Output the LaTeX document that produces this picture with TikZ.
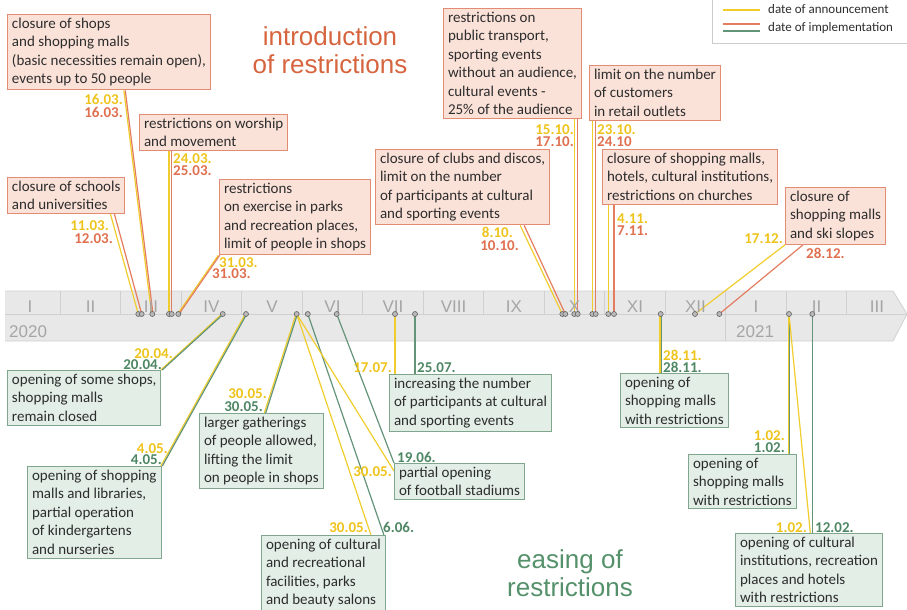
\documentclass[tikz,border=0pt]{standalone}
\usepackage{fontspec}
\setmainfont{Carlito}
\newfontfamily\arialfont{Liberation Sans}
\usetikzlibrary{positioning}

\definecolor{annc}{RGB}{240,205,45}
\definecolor{annt}{RGB}{238,196,28}
\definecolor{impr}{RGB}{228,125,95}
\definecolor{imprt}{RGB}{224,112,80}
\definecolor{impg}{RGB}{100,148,120}
\definecolor{impgt}{RGB}{78,135,100}
\definecolor{rfill}{RGB}{251,226,217}
\definecolor{rdraw}{RGB}{226,140,115}
\definecolor{gfill}{RGB}{226,238,230}
\definecolor{gdraw}{RGB}{128,166,142}
\definecolor{redtitle}{RGB}{214,100,62}
\definecolor{greentitle}{RGB}{84,145,106}
\definecolor{boxtext}{RGB}{45,45,45}
\definecolor{bandfill}{RGB}{232,232,232}
\definecolor{bandline}{RGB}{208,208,208}
\definecolor{monthtext}{RGB}{165,165,165}

\pgfdeclarelayer{band}
\pgfdeclarelayer{links}
\pgfsetlayers{band,links,main}

\begin{document}
\begin{tikzpicture}[x=1pt, y=-1pt,
  rbox/.style={draw=rdraw, fill=rfill, line width=1pt, inner xsep=4.5pt, inner ysep=3.5pt, align=left, anchor=north west, text=boxtext, font=\fontsize{15}{18.5}\selectfont},
  gbox/.style={rbox, draw=gdraw, fill=gfill},
  ann/.style={inner sep=0pt, text=annt, font=\bfseries\fontsize{15}{15}\selectfont},
  impo/.style={ann, text=imprt},
  impe/.style={ann, text=impgt},
  dot/.style={circle, draw=gray!75!black, fill=gray!55, line width=0.6pt, inner sep=0pt, minimum size=5pt},
  aline/.style={annc, line width=1.2pt},
  oline/.style={impr, line width=1.2pt},
  eline/.style={impg, line width=1.2pt},
  month/.style={text=monthtext, font=\arialfont\fontsize{17}{17}\selectfont, inner sep=0pt},
  heading/.style={align=center, font=\arialfont\fontsize{26}{28}\selectfont}]
\useasboundingbox (0,0) rectangle (907,610);

\begin{pgfonlayer}{band}
\fill[bandfill] (5,291) -- (893,291) -- (907,314) -- (893,341) -- (5,341) -- cycle;
\draw[bandline, line width=0.8pt] (5,291) -- (893,291) -- (907,314) -- (893,341) -- (5,341);
\draw[bandline, line width=0.8pt] (5,314) -- (907,314);
\foreach \i in {1,...,14}
  \draw[bandline, line width=0.8pt] (60.5*\i-0.5,291) -- (60.5*\i-0.5,314);
\draw[bandline, line width=0.8pt] (725.5,314) -- (725.5,341);
\end{pgfonlayer}

\foreach \m [count=\i] in {I,II,III,IV,V,VI,VII,VIII,IX,X,XI,XII,I,II,III}
  \node[month, anchor=base] (m\i) at (60.5*\i-30.5,312) {\m};
\node[month, anchor=base west] (y2020) at (9,337) {2020};
\node[month, anchor=base west] (y2021) at (736,337) {2021};

\foreach \n/\x in {1103/138.3, 1203/141.7, 1603/152.3, 2403/169, 2503/171.7, 3103/178.3,
  2004/222.7, 0405/246, 3005/296.7, 0606/307.8, 1906/336.7, 1707/395, 2507/415,
  0810/562.3, 1010/565.3, 1510/574.3, 1710/577.7, 2310/592.3, 2410/595.7,
  0411/608.3, 0711/614, 2811/660.7, 1712/695, 2812/719.3, 0102/789, 1202/812.3}
  \node[dot] (d\n) at (\x,314) {};

\node[heading, text=redtitle] (intro) at (330,50) {introduction\\of restrictions};
\node[heading, text=greentitle] (easing) at (570,573) {easing of\\restrictions};

\draw[gray!40, line width=0.8pt] (712,0) -- (712,43) -- (907,43);
\draw[aline] (723,10) -- (760,10);
\draw[oline] (723,24) -- (760,24);
\draw[eline] (723,31) -- (760,31);
\node[anchor=base west, inner sep=0pt, text=boxtext, font=\fontsize{13}{13}\selectfont] (lega) at (768,14) {date of announcement};
\node[anchor=base west, inner sep=0pt, text=boxtext, font=\fontsize{13}{13}\selectfont] (legi) at (768,32) {date of implementation};

\node[rbox] (r1) at (7,14) {closure of shops\\and shopping malls\\(basic necessities remain open),\\events up to 50 people};
\node[rbox] (r2) at (139,114) {restrictions on worship\\and movement};
\node[rbox] (r3) at (7,177) {closure of schools\\and universities};
\node[rbox] (r4) at (219,179) {restrictions\\on exercise in parks\\and recreation places,\\limit of people in shops};
\node[rbox] (r5) at (375,149) {closure of clubs and discos,\\limit on the number\\of participants at cultural\\and sporting events};
\node[rbox] (r6) at (443,8) {restrictions on\\public transport,\\sporting events\\without an audience,\\cultural events -\\25\% of the audience};
\node[rbox] (r7) at (589,65) {limit on the number\\of customers\\in retail outlets};
\node[rbox] (r8) at (602,149) {closure of shopping malls,\\hotels, cultural institutions,\\restrictions on churches};
\node[rbox] (r9) at (785,187) {closure of\\shopping malls\\and ski slopes};

\node[gbox] (e1) at (7,370) {opening of some shops,\\shopping malls\\remain closed};
\node[gbox] (e2) at (27,466) {opening of shopping\\malls and libraries,\\partial operation\\of kindergartens\\and nurseries};
\node[gbox] (e3) at (199,413) {larger gatherings\\of people allowed,\\lifting the limit\\on people in shops};
\node[gbox] (e4) at (261,535) {opening of cultural\\and recreational\\facilities, parks\\and beauty salons};
\node[gbox] (e5) at (394,463) {partial opening\\of football stadiums};
\node[gbox] (e6) at (389,374) {increasing the number\\of participants at cultural\\and sporting events};
\node[gbox] (e7) at (620,373) {opening of\\shopping malls\\with restrictions};
\node[gbox] (e8) at (688,454) {opening of\\shopping malls\\with restrictions};
\node[gbox] (e9) at (735,533) {opening of cultural\\institutions, recreation\\places and hotels\\with restrictions};

\node[ann, anchor=base east] (t1603a) at (123,104) {16.03.};
\node[impo, anchor=base east] (t1603i) at (123,117) {16.03.};
\node[ann, anchor=base west] (t2403a) at (173,163) {24.03.};
\node[impo, anchor=base west] (t2503i) at (173,175) {25.03.};
\node[ann, anchor=base east] (t1103a) at (109,230) {11.03.};
\node[impo, anchor=base east] (t1203i) at (113,243) {12.03.};
\node[ann, anchor=base west] (t3103a) at (219,267) {31.03.};
\node[impo, anchor=base west] (t3103i) at (212,278) {31.03.};
\node[ann, anchor=base east] (t0810a) at (513,237) {8.10.};
\node[impo, anchor=base east] (t1010i) at (519,250) {10.10.};
\node[ann, anchor=base east] (t1510a) at (574,134) {15.10.};
\node[impo, anchor=base east] (t1710i) at (574,146) {17.10.};
\node[ann, anchor=base west] (t2310a) at (597,134) {23.10.};
\node[impo, anchor=base west] (t2410i) at (597,146) {24.10};
\node[ann, anchor=base west] (t0411a) at (617,223) {4.11.};
\node[impo, anchor=base west] (t0711i) at (617,235) {7.11.};
\node[ann, anchor=base east] (t1712a) at (783,243) {17.12.};
\node[impo, anchor=base west] (t2812i) at (806,258) {28.12.};

\node[ann, anchor=base east] (t2004a) at (173,358) {20.04.};
\node[impe, anchor=base east] (t2004e) at (162,369) {20.04.};
\node[ann, anchor=base east] (t0405a) at (168,453) {4.05.};
\node[impe, anchor=base east] (t0405e) at (162,464) {4.05.};
\node[ann, anchor=base east] (t3005a) at (267,398) {30.05.};
\node[impe, anchor=base east] (t3005e) at (263,411) {30.05.};
\node[ann, anchor=base east] (t3005b) at (368,532) {30.05.};
\node[impe, anchor=base west] (t0606e) at (383,532) {6.06.};
\node[impe, anchor=base west] (t1906e) at (397,462) {19.06.};
\node[ann, anchor=base east] (t3005c) at (392,476) {30.05.};
\node[ann, anchor=base east] (t1707a) at (392,372) {17.07.};
\node[impe, anchor=base west] (t2507e) at (417,372) {25.07.};
\node[ann, anchor=base west] (t2811a) at (663,360) {28.11.};
\node[impe, anchor=base west] (t2811e) at (663,372) {28.11.};
\node[ann, anchor=base east] (t0102a) at (785,440) {1.02.};
\node[impe, anchor=base east] (t0102e) at (785,452) {1.02.};
\node[ann, anchor=base east] (t0102b) at (807,532) {1.02.};
\node[impe, anchor=base west] (t1202e) at (815,532) {12.02.};

\begin{pgfonlayer}{links}
\draw[aline] ([xshift=-15pt]r3.south east) -- (d1103.center);
\draw[oline] ([xshift=-11pt]r3.south east) -- (d1203.center);
\draw[aline] ([xshift=-87pt]r1.south east) -- ([xshift=-0.7pt]d1603.center);
\draw[oline] ([xshift=-85.6pt]r1.south east) -- ([xshift=0.7pt]d1603.center);
\draw[aline] (d2403.center) -- (d2403 |- r2.south);
\draw[oline] (d2503.center) -- (d2503 |- r2.south);
\draw[aline] ([xshift=-0.7pt]r4.south west) -- ([xshift=-0.7pt]d3103.center);
\draw[oline] ([xshift=0.7pt]r4.south west) -- ([xshift=0.7pt]d3103.center);
\draw[aline] ([xshift=-30pt]r5.south east) -- (d0810.center);
\draw[oline] ([xshift=-26pt]r5.south east) -- (d1010.center);
\draw[aline] (d1510.center) -- (d1510 |- r6.south);
\draw[oline] (d1710.center) -- (d1710 |- r6.south);
\draw[aline] (d2310.center) -- (d2310 |- r7.south);
\draw[oline] (d2410.center) -- (d2410 |- r7.south);
\draw[aline] (d0411.center) -- (d0411 |- r8.south);
\draw[oline] (d0711.center) -- (d0711 |- r8.south);
\draw[aline] (r9.south west) -- (d1712.center);
\draw[oline] ([xshift=18pt]r9.south west) -- (d2812.center);

\draw[aline] ([xshift=-0.7pt]e1.north east) -- ([xshift=-0.7pt]d2004.center);
\draw[eline] ([xshift=0.7pt]e1.north east) -- ([xshift=0.7pt]d2004.center);
\draw[aline] ([xshift=-0.7pt]e2.north east) -- ([xshift=-0.7pt]d0405.center);
\draw[eline] ([xshift=0.7pt]e2.north east) -- ([xshift=0.7pt]d0405.center);
\draw[aline] ([xshift=65.3pt]e3.north west) -- ([xshift=-0.7pt]d3005.center);
\draw[eline] ([xshift=66.7pt]e3.north west) -- ([xshift=0.7pt]d3005.center);
\draw[aline] ([xshift=-15pt]e4.north east) -- (d3005.center);
\draw[eline] ([xshift=-2pt]e4.north east) -- (d0606.center);
\draw[eline] (e5.north west) -- (d1906.center);
\draw[aline] ([yshift=-8pt]e5.north west) -- (d3005.center);
\draw[aline] (d1707.center) -- (d1707 |- e6.north);
\draw[eline] (d2507.center) -- (d2507 |- e6.north);
\draw[aline] ([xshift=-0.7pt]d2811.center) -- ([xshift=-0.7pt]d2811 |- e7.north);
\draw[eline] ([xshift=0.7pt]d2811.center) -- ([xshift=0.7pt]d2811 |- e7.north);
\draw[aline] ([xshift=-0.7pt]d0102.center) -- ([xshift=-0.7pt]d0102 |- e8.north);
\draw[eline] ([xshift=0.7pt]d0102.center) -- ([xshift=0.7pt]d0102 |- e8.north);
\draw[aline] (d0102.center) -- ([xshift=-2pt]d1202 |- e9.north);
\draw[eline] (d1202.center) -- (d1202 |- e9.north);
\end{pgfonlayer}
\end{tikzpicture}
\end{document}
